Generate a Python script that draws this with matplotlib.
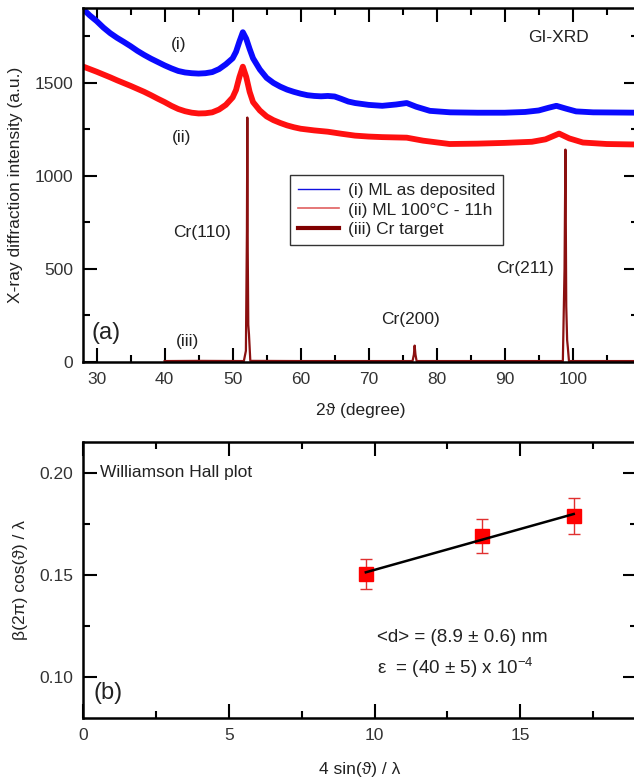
import numpy as np
import matplotlib
matplotlib.use('Agg')
import matplotlib.pyplot as plt
from matplotlib.ticker import MultipleLocator

plt.rcParams['font.family'] = ['Liberation Sans', 'DejaVu Sans']
plt.rcParams['mathtext.fontset'] = 'custom'
plt.rcParams['mathtext.rm'] = 'Liberation Sans'
plt.rcParams['text.color'] = '#222222'
plt.rcParams['axes.labelcolor'] = '#222222'
plt.rcParams['xtick.labelcolor'] = '#333333'
plt.rcParams['ytick.labelcolor'] = '#333333'

# (a) GI-XRD, valores
two_theta_i = [28, 29, 30, 31, 32, 33, 34, 35, 36, 37, 38, 39, 40, 41, 42, 43, 44, 45, 46, 47,
               48, 49, 50, 50.5, 51, 51.5, 52, 52.5, 53, 54, 55, 56, 57, 58, 59, 60, 61, 62,
               63, 64, 65, 66, 67, 68, 70, 72, 74, 75.6, 77, 79, 82, 86, 90, 93, 95, 96.5,
               97.6, 99, 100.5, 103, 110]
intens_i = [1895, 1860, 1830, 1795, 1765, 1740, 1718, 1695, 1670, 1648, 1628, 1610, 1592, 1576,
            1562, 1554, 1550, 1548, 1550, 1556, 1572, 1598, 1630, 1665, 1720, 1770, 1735, 1680,
            1630, 1570, 1525, 1498, 1478, 1462, 1450, 1440, 1432, 1428, 1426, 1428, 1425, 1412,
            1398, 1390, 1380, 1375, 1382, 1390, 1370, 1348, 1340, 1338, 1338, 1342, 1350, 1365,
            1375, 1360, 1345, 1340, 1338]

two_theta_ii = [28, 29, 30, 31, 32, 33, 34, 35, 36, 37, 38, 39, 40, 41, 42, 43, 44, 45, 46, 47,
                48, 49, 50, 50.5, 51, 51.5, 52, 52.5, 53, 54, 55, 56, 57, 58, 59, 60, 62, 64,
                66, 68, 70, 72, 75.6, 78, 81.9, 86, 90, 94, 96, 98, 99.5, 101.5, 105, 110]
intens_ii = [1586, 1572, 1558, 1543, 1528, 1512, 1497, 1482, 1466, 1450, 1432, 1413, 1395, 1375,
             1358, 1346, 1338, 1334, 1335, 1340, 1355, 1380, 1420, 1460, 1530, 1585, 1530, 1450,
             1395, 1350, 1318, 1298, 1283, 1270, 1260, 1252, 1243, 1236, 1225, 1215, 1210, 1207,
             1204, 1188, 1170, 1172, 1176, 1182, 1195, 1226, 1200, 1178, 1170, 1167]

two_theta_cr = [40, 45, 51.65, 51.95, 52.1, 52.16, 52.22, 52.3, 52.4, 52.6, 60, 76.45, 76.65,
                76.76, 76.88, 77.05, 90, 98.55, 98.8, 98.93, 99.05, 99.18, 99.28, 99.45, 110]
intens_cr = [5, 6, 5, 60, 700, 1312, 600, 200, 150, 6, 5, 5, 40,
             88, 40, 5, 5, 5, 500, 1140, 300, 118, 80, 5, 5]

# (b) Williamson Hall
wh_x = [9.7, 13.7, 16.83]
wh_y = [0.1505, 0.169, 0.1788]
wh_err = [0.0073, 0.0083, 0.009]

fig = plt.figure(figsize=(6.34, 7.8), dpi=100)

# ---------- painel (a) ----------
ax1 = fig.add_axes([83/634, 1 - 362/780, 555/634, 354/780])
ax1.plot(two_theta_i, intens_i, color='#0a0aff', lw=4.2, solid_joinstyle='round')
ax1.plot(two_theta_ii, intens_ii, color='#ff1010', lw=4.2, solid_joinstyle='round')
ax1.plot(two_theta_cr, intens_cr, color='#8b1010', lw=1.6)

ax1.set_xlim(28, 109.6)
ax1.set_ylim(0, 1900)
ax1.xaxis.set_major_locator(MultipleLocator(10))
ax1.xaxis.set_minor_locator(MultipleLocator(5))
ax1.yaxis.set_major_locator(MultipleLocator(500))
ax1.yaxis.set_minor_locator(MultipleLocator(250))
ax1.set_xlabel('2ϑ (degree)', fontsize=12.5, labelpad=12)
ax1.set_ylabel('X-ray diffraction intensity (a.u.)', fontsize=12.5, labelpad=8)

# legenda com linhas proxy
l1, = ax1.plot([], [], color='#1010e0', lw=1)
l2, = ax1.plot([], [], color='#e06060', lw=1.2)
l3, = ax1.plot([], [], color='#800000', lw=3)
leg = ax1.legend([l1, l2, l3], ['(i) ML as deposited', '(ii) ML 100°C - 11h', '(iii) Cr target'],
                 loc='upper left', bbox_to_anchor=(0.373, 0.528), fontsize=12.5,
                 frameon=True, fancybox=False, edgecolor='black', handlelength=2.4,
                 borderpad=0.45, labelspacing=0.25, handletextpad=0.5, borderaxespad=0)
leg.get_frame().set_linewidth(1.0)

ax1.text(40.9, 1704, '(i)', fontsize=12.5, va='center')
ax1.text(41.0, 1204, '(ii)', fontsize=12.5, va='center')
ax1.text(41.6, 108, '(iii)', fontsize=12.5, va='center')
ax1.text(29.3, 156, '(a)', fontsize=17, va='center')
ax1.text(41.3, 694, 'Cr(110)', fontsize=12.5, va='center')
ax1.text(71.9, 226, 'Cr(200)', fontsize=12.5, va='center')
ax1.text(88.8, 500, 'Cr(211)', fontsize=12.5, va='center')
ax1.text(93.5, 1742, 'GI-XRD', fontsize=12.5, va='center')

# ---------- painel (b) ----------
ax2 = fig.add_axes([83/634, 1 - 718/780, 554/634, 276/780])
coef = np.polyfit(wh_x, wh_y, 1)
xf = np.array([min(wh_x), max(wh_x)])
ax2.plot(xf, np.polyval(coef, xf), color='black', lw=1.8, zorder=3)
ax2.errorbar(wh_x, wh_y, yerr=wh_err, fmt='none', ecolor='#e03030', elinewidth=1,
             capsize=4, capthick=1, zorder=2)
ax2.plot(wh_x, wh_y, 's', color='#ff0000', ms=9.5, zorder=2)

ax2.set_xlim(0, 19)
ax2.set_ylim(0.08, 0.215)
ax2.xaxis.set_major_locator(MultipleLocator(5))
ax2.xaxis.set_minor_locator(MultipleLocator(2.5))
ax2.yaxis.set_major_locator(MultipleLocator(0.05))
ax2.yaxis.set_minor_locator(MultipleLocator(0.025))
ax2.yaxis.set_major_formatter(plt.FormatStrFormatter('%.2f'))
ax2.set_xlabel('4 sin(ϑ) / λ', fontsize=12.5, labelpad=14)
ax2.set_ylabel('β(2π) cos(ϑ) / λ', fontsize=12.5, labelpad=8)

ax2.text(0.6, 0.2, 'Williamson Hall plot', fontsize=12.5, va='center')
ax2.text(0.35, 0.0922, '(b)', fontsize=17, va='center')
ax2.text(10.1, 0.1195, '<d> = (8.9 ± 0.6) nm', fontsize=13.5, va='center')
ax2.text(10.1, 0.1045, 'ε  = (40 ± 5) x 10$^{-4}$', fontsize=13.5, va='center')

for ax in (ax1, ax2):
    ax.tick_params(which='both', direction='in', top=True, right=True, labelsize=12.5, pad=7)
    ax.tick_params(which='major', length=10, width=1.5)
    ax.tick_params(which='minor', length=5, width=1.5)
    for s in ax.spines.values():
        s.set_linewidth(1.8)

fig.savefig('out.png', dpi=100)
